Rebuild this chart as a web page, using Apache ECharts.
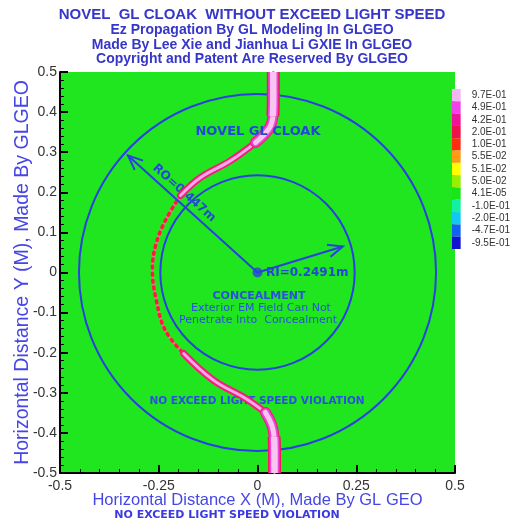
<!DOCTYPE html>
<html>
<head>
<meta charset="utf-8">
<script src="https://cdn.jsdelivr.net/npm/echarts@6/dist/echarts.min.js"></script>
<style>
  html, body { margin: 0; padding: 0; background: #fff; }
  #chart { width: 513px; height: 525px; }
</style>
</head>
<body>
<div id="chart"></div>
<script>
// title lines above the plot
const titleLines = [
  "NOVEL  GL CLOAK  WITHOUT EXCEED LIGHT SPEED",
  "Ez Propagation By GL Modeling In GLGEO",
  "Made By Lee Xie and Jianhua Li GXIE In GLGEO",
  "Copyright and Patent Are Reserved By GLGEO"
];

const xTickLabels = ["-0.5", "-0.25", "0", "0.25", "0.5"];
const yTickLabels = ["-0.5", "-0.4", "-0.3", "-0.2", "-0.1", "0", "0.1", "0.2", "0.3", "0.4", "0.5"];

// contour legend
const legendLabels = ["9.7E-01", "4.9E-01", "4.2E-01", "2.0E-01", "1.0E-01", "5.5E-02", "5.1E-02",
  "5.0E-02", "4.1E-05", "-1.0E-01", "-2.0E-01", "-4.7E-01", "-9.5E-01"];
const legendColors = ["#f4b6f0", "#f042e6", "#f0129a", "#f0104c", "#ff2c12", "#ff9a12", "#ffff00",
  "#98f000", "#18e618", "#12f0a2", "#12c8f0", "#1262f0", "#1212d0"];

// wave band path (x, y in metres)
const topStem = [[0.040, 0.50], [0.040, 0.43], [0.039, 0.39]];
const topNeck = [[0.039, 0.39], [0.030, 0.36], [-0.005, 0.324]];
const topBend = [[-0.005, 0.324], [-0.068, 0.279], [-0.144, 0.237], [-0.195, 0.192]];
const leftArc = [[-0.195, 0.192], [-0.233, 0.130], [-0.258, 0.067], [-0.266, 0.005],
  [-0.256, -0.070], [-0.233, -0.145], [-0.187, -0.202]];
const bottomBend = [[-0.187, -0.202], [-0.111, -0.269], [-0.030, -0.314], [0.020, -0.349]];
const bottomNeck = [[0.020, -0.349], [0.036, -0.38], [0.042, -0.41]];
const bottomStem = [[0.042, -0.41], [0.043, -0.44], [0.043, -0.50]];

// cloak circles: cx, cy, radius
const circles = [[0, 0, 0.452], [0, 0, 0.246]];
// radius arrows: x0, y0, x1, y1
const arrows = [[0, 0, -0.328, 0.292], [0, 0, 0.216, 0.065]];
const centerPoint = [[0, 0]];

const BLUE = "#2a40e0";

function renderCircle(params, api) {
  const c = api.coord([api.value(0), api.value(1)]);
  const r = api.size([api.value(2), 0])[0];
  return {
    type: "circle",
    shape: { cx: c[0], cy: c[1], r: r },
    style: { fill: "transparent", stroke: BLUE, lineWidth: 2 }
  };
}

function renderArrow(params, api) {
  const p0 = api.coord([api.value(0), api.value(1)]);
  const p1 = api.coord([api.value(2), api.value(3)]);
  const ang = Math.atan2(p1[1] - p0[1], p1[0] - p0[0]);
  const len = 16, spread = 0.4;
  const a = [p1[0] - len * Math.cos(ang - spread), p1[1] - len * Math.sin(ang - spread)];
  const b = [p1[0] - len * Math.cos(ang + spread), p1[1] - len * Math.sin(ang + spread)];
  const style = { fill: "transparent", stroke: BLUE, lineWidth: 2 };
  return {
    type: "group",
    children: [
      { type: "line", shape: { x1: p0[0], y1: p0[1], x2: p1[0], y2: p1[1] }, style: style },
      { type: "polyline", shape: { points: [a, p1, b] }, style: style }
    ]
  };
}

function bandLine(data, color, width, cap, type) {
  return {
    type: "line",
    data: data,
    smooth: 0.4,
    symbol: "none",
    silent: true,
    lineStyle: { color: color, width: width, cap: cap || "round", join: "round", type: type || "solid" },
    z: 3
  };
}

const chart = echarts.init(document.getElementById("chart"));

const innerFont = "DejaVu Sans";

function label(text, x, y, font, color, opts) {
  return Object.assign({
    type: "text", x: x, y: y, z: 1, silent: true,
    style: {
      text: text, fill: color, align: "center", verticalAlign: "middle",
      textAlign: "center", textVerticalAlign: "middle", font: font
    }
  }, opts || {});
}

const wholePath = [...topStem, ...topNeck.slice(1), ...topBend.slice(1), ...leftArc.slice(1),
  ...bottomBend.slice(1), ...bottomNeck.slice(1), ...bottomStem.slice(1)];

chart.setOption({
  animation: false,
  graphic: [
    ...titleLines.map((t, i) => label(t, 252, [15, 30, 45, 59][i],
      (i === 0 ? "bold 15px" : "bold 14px") + " 'Liberation Sans', Arial, sans-serif", "#3636c8")),
    label("NOVEL GL CLOAK", 258, 132, "bold 13px '" + innerFont + "'", "#2348d8", { z: 10 }),
    label("RO=0.447m", 184, 193, "bold 12px '" + innerFont + "'", "#2348d8", { rotation: -0.73 }),
    (() => {
      const t = label("RI=0.2491m", 266, 273, "bold 12px '" + innerFont + "'", "#2348d8");
      t.style.align = "left"; t.style.textAlign = "left";
      return t;
    })(),
    label("CONCEALMENT", 259, 296, "bold 11px '" + innerFont + "'", "#2a50e0"),
    label("Exterior EM Field Can Not", 261, 308, "11px '" + innerFont + "'", "#2a50e0"),
    label("Penetrate Into  Concealment", 258, 320, "11px '" + innerFont + "'", "#2a50e0"),
    label("NO EXCEED LIGHT SPEED VIOLATION", 257, 401, "bold 10.5px '" + innerFont + "'", "#2a50e0"),
    label("NO EXCEED LIGHT SPEED VIOLATION", 227, 515, "bold 11px '" + innerFont + "'", "#3a3ae0")
  ],
  grid: [
    { left: 60, top: 72, width: 395, height: 401, show: true, backgroundColor: "#20e620", borderWidth: 0 },
    { left: 452, top: 89, width: 13, height: 160 }
  ],
  xAxis: [
    {
      gridIndex: 0, type: "value", min: -0.5, max: 0.5, interval: 0.25,
      axisLine: { onZero: false, lineStyle: { color: "#000", width: 2 } },
      axisTick: { inside: true, length: 8, lineStyle: { color: "#000", width: 2 } },
      minorTick: { show: true, splitNumber: 5, length: 4, lineStyle: { color: "#000", width: 1 } },
      splitLine: { show: false },
      axisLabel: {
        color: "#333", fontSize: 14, margin: 6, fontFamily: "'Liberation Sans', Arial",
        showMinLabel: true, showMaxLabel: true,
        formatter: (v, i) => xTickLabels[i]
      },
      name: "Horizontal Distance X (M), Made By GL GEO",
      nameLocation: "middle", nameGap: 19, nameMoveOverlap: false,
      nameTextStyle: { color: "#4646e6", fontSize: 16.5, fontFamily: "'Liberation Sans', Arial" }
    },
    { gridIndex: 1, type: "value", min: 0, max: 1, show: false }
  ],
  yAxis: [
    {
      gridIndex: 0, type: "value", min: -0.5, max: 0.5, interval: 0.1,
      axisLine: { onZero: false, lineStyle: { color: "#000", width: 2 } },
      axisTick: { inside: true, length: 8, lineStyle: { color: "#000", width: 2 } },
      minorTick: { show: true, splitNumber: 5, length: 4, lineStyle: { color: "#000", width: 1 } },
      splitLine: { show: false },
      axisLabel: {
        color: "#333", fontSize: 14, margin: 3, fontFamily: "'Liberation Sans', Arial",
        showMinLabel: true, showMaxLabel: true,
        formatter: (v, i) => yTickLabels[i]
      },
      name: "Horizontal Distance Y (M), Made By GLGEO",
      nameLocation: "middle", nameGap: 27, nameMoveOverlap: false,
      nameTextStyle: { color: "#4646e6", fontSize: 19.5, fontFamily: "'Liberation Sans', Arial" }
    },
    {
      gridIndex: 1, type: "category", data: legendLabels, inverse: true, position: "right",
      axisLine: { show: false }, axisTick: { show: false },
      axisLabel: { interval: 0, color: "#333", fontSize: 10, margin: 11, fontFamily: "'Liberation Sans', Arial" }
    }
  ],
  series: [
    {
      type: "custom", name: "circles", data: circles, renderItem: renderCircle,
      encode: { x: 0, y: 1 }, silent: true, z: 2
    },
    bandLine(wholePath, "#ff6aa8", 2.2),
    bandLine(leftArc, "#ff1a3c", 3.5, "round", [2, 5]),
    bandLine(topBend, "#f0207a", 7),
    bandLine(topBend, "#f6a6ea", 3),
    bandLine(bottomBend, "#f0207a", 7),
    bandLine(bottomBend, "#f6a6ea", 3),
    bandLine(topNeck, "#f0207a", 11),
    bandLine(topNeck, "#ea46d8", 8.5),
    bandLine(topNeck, "#f8c4f2", 5),
    bandLine(bottomNeck, "#f0207a", 11),
    bandLine(bottomNeck, "#ea46d8", 8.5),
    bandLine(bottomNeck, "#f8c4f2", 5),
    bandLine(topStem, "#f2185e", 13, "butt"),
    bandLine(topStem, "#ea46d8", 10, "butt"),
    bandLine(topStem, "#f8c4f2", 6.5, "butt"),
    bandLine(bottomStem, "#f2185e", 13, "butt"),
    bandLine(bottomStem, "#ea46d8", 10, "butt"),
    bandLine(bottomStem, "#f8c4f2", 6.5, "butt"),
    {
      type: "custom", name: "arrows", data: arrows, renderItem: renderArrow,
      encode: { x: [0, 2], y: [1, 3] }, silent: true, z: 4
    },
    {
      type: "scatter", data: centerPoint, symbolSize: 10, silent: true, z: 5,
      itemStyle: { color: BLUE }
    },
    {
      type: "bar", xAxisIndex: 1, yAxisIndex: 1, silent: true,
      barWidth: "100%", barCategoryGap: "0%",
      data: legendColors.map(c => ({ value: 1, itemStyle: { color: c } }))
    }
  ]
});
</script>
</body>
</html>
